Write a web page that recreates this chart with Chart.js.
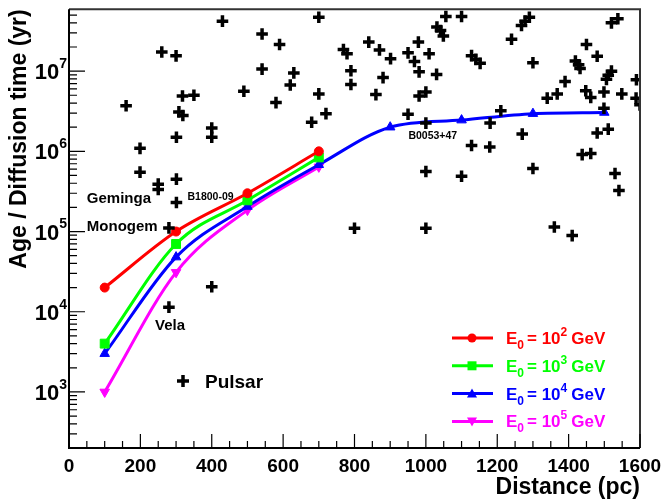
<!DOCTYPE html>
<html>
<head>
<meta charset="utf-8">
<script src="https://cdn.jsdelivr.net/npm/chart.js@4.4.0/dist/chart.umd.min.js"></script>
<style>
  html, body { margin: 0; padding: 0; background: #fff; }
  #wrap { width: 665px; height: 502px; }
</style>
</head>
<body>
<div id="wrap"><canvas id="chart" width="665" height="502"></canvas></div>
<script>
// pulsar catalogue (distance in pc, age in yr)
const pulsarDist = [430, 260, 300, 160, 318, 350, 490, 308, 319, 400, 400, 301, 199, 199, 250, 250, 301, 301, 280, 400,
  280, 700, 541, 590, 541, 630, 620, 580, 700, 720, 680, 769, 779, 840, 870, 901, 790, 790, 880, 860,
  950, 979, 1009, 968, 981, 1030, 981, 1000, 950, 1000, 1000, 800, 1000, 1056, 1100, 1031, 1041, 1049, 1290, 1278,
  1268, 1538, 1520, 1240, 1450, 1480, 1128, 1140, 1152, 1300, 1419, 1428, 1432, 1520, 1511, 1506, 1590, 1390, 1368, 1340,
  1448, 1462, 1499, 1549, 1589, 1600, 1210, 1499, 1180, 1270, 1480, 1511, 1128, 1179, 1100, 1300, 1438, 1462, 1530, 1541,
  1360, 1410];
const pulsarAge = [4.2e7, 1.73e7, 1.55e7, 3.7e6, 4.9e6, 5.0e6, 5.6e6, 3.1e6, 2.8e6, 1.95e6, 1.5e6, 1.5e6, 1.09e6, 5.5e5, 3.9e5, 3.35e5, 4.5e5, 2.3e5, 1.11e5, 2.05e4,
  1.14e4, 4.7e7, 2.9e7, 2.15e7, 1.06e7, 9.5e6, 6.7e6, 4.05e6, 5.2e6, 2.95e6, 2.3e6, 1.86e7, 1.65e7, 2.3e7, 1.84e7, 1.43e7, 1.01e7, 6.8e6, 8.3e6, 5.1e6,
  1.69e7, 2.3e7, 1.65e7, 1.32e7, 9.8e6, 9.1e6, 4.9e6, 5.5e6, 2.9e6, 2.25e6, 5.6e5, 1.1e5, 1.1e5, 4.8e7, 4.8e7, 3.55e7, 3.2e7, 2.75e7, 4.7e7, 4.2e7,
  3.7e7, 4.5e7, 4.0e7, 2.5e7, 2.15e7, 1.53e7, 1.56e7, 1.4e7, 1.25e7, 1.27e7, 1.34e7, 1.2e7, 1.08e7, 1.0e7, 8.9e6, 7.9e6, 7.8e6, 7.4e6, 5.2e6, 4.6e6,
  5.7e6, 4.7e6, 5.5e6, 5.2e6, 4.6e6, 3.8e6, 3.2e6, 3.45e6, 2.25e6, 1.64e6, 1.69e6, 1.89e6, 1.18e6, 1.13e6, 4.9e5, 6.1e5, 9.1e5, 9.4e5, 5.3e5, 3.25e5,
  1.14e5, 8.9e4];

// diffusion times for the four injection energies
const diffDist = [100, 300, 500, 700];
const diffDistLong = [100, 300, 500, 700, 900, 1100, 1300, 1500];
const timeE2 = [2.0e4, 1.0e5, 3.0e5, 1.0e6];
const timeE3 = [4.0e3, 7.0e4, 2.45e5, 8.4e5];
const timeE4 = [3.0e3, 4.8e4, 2.05e5, 6.8e5, 2.0e6, 2.45e6, 2.95e6, 3.05e6];
const timeE5 = [1.0e3, 3.1e4, 1.85e5, 6.4e5];

const energyExp = ['2', '3', '4', '5'];
const seriesColors = ['#ff0000', '#00ff00', '#0000ff', '#ff00ff'];
const seriesStyles = ['circle', 'rect', 'triangle', 'triangle'];

// axis ticks
const xTicks = [0, 200, 400, 600, 800, 1000, 1200, 1400, 1600];
const yTickExp = [3, 4, 5, 6, 7];

// named pulsars [text, distance, age, size]
const pulsarNames = [
  ['Geminga', 50, 2.57e5, 15],
  ['Monogem', 50, 1.15e5, 15],
  ['Vela', 241, 6.6e3, 15],
  ['B1800-09', 332, 2.69e5, 10.5],
  ['B0053+47', 951, 1.53e6, 10.5]
];

const FONT = '"Liberation Sans", Arial, Helvetica, sans-serif';

function pts(xs, ys) {
  return xs.map((x, i) => ({ x: x, y: ys[i] }));
}

function curve(label, xs, ys, idx, radius, rotation) {
  return {
    label: label,
    data: pts(xs, ys),
    showLine: true,
    borderColor: seriesColors[idx],
    backgroundColor: seriesColors[idx],
    borderWidth: 3,
    pointStyle: seriesStyles[idx],
    pointRadius: radius,
    pointRotation: rotation || 0,
    pointBorderWidth: 1,
    cubicInterpolationMode: 'monotone',
    order: 1
  };
}

function drawMarker(ctx, style, x, y, r, color) {
  ctx.fillStyle = color;
  ctx.beginPath();
  if (style === 'circle') {
    ctx.arc(x, y, r, 0, Math.PI * 2);
  } else if (style === 'rect') {
    ctx.rect(x - r, y - r, 2 * r, 2 * r);
  } else if (style === 'up') {
    ctx.moveTo(x, y - r); ctx.lineTo(x + r, y + r * 0.8); ctx.lineTo(x - r, y + r * 0.8);
  } else {
    ctx.moveTo(x, y + r); ctx.lineTo(x + r, y - r * 0.8); ctx.lineTo(x - r, y - r * 0.8);
  }
  ctx.closePath();
  ctx.fill();
}

function drawCross(ctx, x, y) {
  ctx.strokeStyle = '#000';
  ctx.lineWidth = 3.5;
  ctx.beginPath();
  ctx.moveTo(x - 6, y); ctx.lineTo(x + 6, y);
  ctx.moveTo(x, y - 6); ctx.lineTo(x, y + 6);
  ctx.stroke();
}

// draws text pieces with sub/superscripts, left to right
function drawRich(ctx, x, y, parts, color) {
  ctx.fillStyle = color;
  ctx.textBaseline = 'alphabetic';
  ctx.textAlign = 'left';
  parts.forEach(p => {
    ctx.font = 'bold ' + p.size + 'px ' + FONT;
    ctx.fillText(p.t, x, y + (p.dy || 0));
    x += ctx.measureText(p.t).width + (p.gap || 0);
  });
}

const rootAxes = {
  id: 'rootAxes',
  afterDraw(chart) {
    const ctx = chart.ctx;
    const a = chart.chartArea;
    const xs = chart.scales.x, ys = chart.scales.y;
    ctx.save();

    // frame
    ctx.lineWidth = 2;
    ctx.strokeStyle = '#333';
    ctx.beginPath();
    ctx.moveTo(a.left, a.top); ctx.lineTo(a.right, a.top); ctx.lineTo(a.right, a.bottom);
    ctx.stroke();
    ctx.strokeStyle = '#000';
    ctx.beginPath();
    ctx.moveTo(a.left, a.top); ctx.lineTo(a.left, a.bottom); ctx.lineTo(a.right, a.bottom);
    ctx.stroke();

    // x ticks
    ctx.lineWidth = 1.2;
    ctx.beginPath();
    for (let v = 0; v <= 1600; v += 50) {
      const px = xs.getPixelForValue(v);
      const len = v % 200 === 0 ? 14 : 7;
      ctx.moveTo(px, a.bottom); ctx.lineTo(px, a.bottom - len);
    }
    // y ticks
    for (let e = 2; e <= 7; e++) {
      for (let k = 1; k <= 9; k++) {
        const v = k * Math.pow(10, e);
        if (v < ys.min || v > ys.max) continue;
        const py = ys.getPixelForValue(v);
        ctx.moveTo(a.left, py); ctx.lineTo(a.left + (k === 1 ? 16 : 8), py);
      }
    }
    ctx.stroke();

    // x tick labels
    ctx.fillStyle = '#000';
    ctx.font = 'bold 19px ' + FONT;
    ctx.textAlign = 'center';
    ctx.textBaseline = 'middle';
    xTicks.forEach(v => ctx.fillText(String(v), xs.getPixelForValue(v), 467));

    // y tick labels 10^n
    yTickExp.forEach(e => {
      const py = ys.getPixelForValue(Math.pow(10, e));
      ctx.font = 'bold 14px ' + FONT;
      const ew = ctx.measureText(String(e)).width;
      ctx.textAlign = 'right';
      ctx.textBaseline = 'middle';
      ctx.fillText(String(e), a.left - 2, py - 7);
      ctx.font = 'bold 22px ' + FONT;
      ctx.fillText('10', a.left - 2 - ew, py + 2);
    });

    // axis titles
    ctx.font = 'bold 23px ' + FONT;
    ctx.textAlign = 'right';
    ctx.textBaseline = 'middle';
    ctx.fillText('Distance (pc)', a.right, 488);
    ctx.save();
    ctx.translate(20, a.top);
    ctx.rotate(-Math.PI / 2);
    ctx.fillText('Age / Diffusion time (yr)', 0, 0);
    ctx.restore();

    // pulsar names
    ctx.textAlign = 'left';
    pulsarNames.forEach(n => {
      ctx.font = 'bold ' + n[3] + 'px ' + FONT;
      ctx.fillText(n[0], xs.getPixelForValue(n[1]), ys.getPixelForValue(n[2]));
    });

    // pulsar legend
    drawCross(ctx, 183, 381);
    ctx.fillStyle = '#000';
    ctx.font = 'bold 19px ' + FONT;
    ctx.textBaseline = 'middle';
    ctx.fillText('Pulsar', 205, 383);

    // energy legend
    const shapes = ['circle', 'rect', 'up', 'down'];
    const sizes = [4.5, 4.5, 5, 5];
    energyExp.forEach((ex, i) => {
      const y = 338 + i * 27.8;
      const c = seriesColors[i];
      ctx.strokeStyle = c;
      ctx.lineWidth = 3;
      ctx.beginPath(); ctx.moveTo(452, y); ctx.lineTo(493, y); ctx.stroke();
      drawMarker(ctx, shapes[i], 472, y, sizes[i], c);
      drawRich(ctx, 506, y + 6, [
        { t: 'E', size: 17 },
        { t: '0', size: 12, dy: 5, gap: 3 },
        { t: '= 10', size: 17 },
        { t: ex, size: 12, dy: -8, gap: 4 },
        { t: 'GeV', size: 17 }
      ], c);
    });

    ctx.restore();
  }
};

new Chart(document.getElementById('chart'), {
  type: 'scatter',
  data: {
    datasets: [
      {
        label: 'Pulsar',
        data: pts(pulsarDist, pulsarAge),
        showLine: false,
        pointStyle: 'cross',
        pointRadius: 5.8,
        pointBorderWidth: 3.5,
        borderColor: '#000',
        backgroundColor: '#000',
        order: 0
      },
      curve('E0 = 10^2 GeV', diffDist, timeE2, 0, 4.5),
      curve('E0 = 10^3 GeV', diffDist, timeE3, 1, 6.3),
      curve('E0 = 10^4 GeV', diffDistLong, timeE4, 2, 5.5),
      curve('E0 = 10^5 GeV', diffDist, timeE5, 3, 5.5, 180)
    ]
  },
  options: {
    responsive: false,
    animation: false,
    events: [],
    layout: { padding: { left: 69, top: 7, right: 25, bottom: 54 } },
    plugins: { legend: { display: false }, tooltip: { enabled: false } },
    scales: {
      x: { type: 'linear', min: 0, max: 1600, display: false },
      y: { type: 'logarithmic', min: 200, max: 5.9e7, display: false }
    }
  },
  plugins: [rootAxes]
});
</script>
</body>
</html>
